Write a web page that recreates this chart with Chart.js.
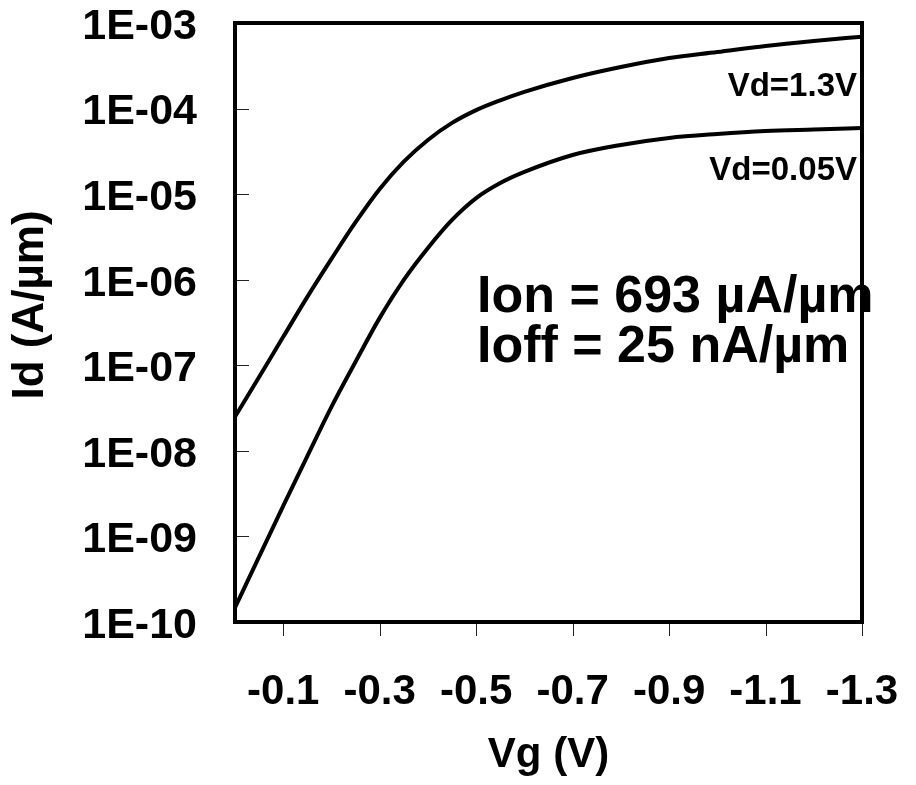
<!DOCTYPE html>
<html>
<head>
<meta charset="utf-8">
<script src="https://cdn.jsdelivr.net/npm/chart.js@4/dist/chart.umd.min.js"></script>
<style>
  body { margin: 0; background: #fff; }
  #box { width: 916px; height: 785px; }
</style>
</head>
<body>
<div id="box"><canvas id="idvg" width="916" height="785"></canvas></div>
<script>
// Id-Vg curves
const vg = [0, -0.05, -0.1, -0.15, -0.2, -0.25, -0.3, -0.35, -0.4, -0.45, -0.5, -0.55, -0.6, -0.7, -0.8, -0.9, -1.0, -1.1, -1.2, -1.3];
const idHigh = [2.5e-8, 7.3e-8, 2.15e-7, 6.3e-7, 1.75e-6, 4.7e-6, 1.15e-5, 2.4e-5, 4.3e-5, 6.8e-5, 9.6e-5, 1.25e-4, 1.57e-4, 2.28e-4, 3.06e-4, 3.9e-4, 4.58e-4, 5.4e-4, 6.17e-4, 6.93e-4];
const idLow = [1.47e-10, 5.8e-10, 2.28e-9, 8.7e-9, 3.27e-8, 1.1e-7, 3.58e-7, 9.95e-7, 2.35e-6, 5.0e-6, 9.0e-6, 1.35e-5, 1.82e-5, 2.87e-5, 3.76e-5, 4.54e-5, 5.05e-5, 5.47e-5, 5.7e-5, 5.93e-5];
const seriesNames = ['Vd=1.3V', 'Vd=0.05V'];

// tick labels
const xTicks = [-0.1, -0.3, -0.5, -0.7, -0.9, -1.1, -1.3];
const yTicks = [1e-10, 1e-9, 1e-8, 1e-7, 1e-6, 1e-5, 1e-4, 1e-3];
const notes = ['Ion = 693 \u00b5A/\u00b5m', 'Ioff = 25 nA/\u00b5m'];

const FONT = '"Liberation Sans", Arial, Helvetica, sans-serif';

function toPoints(ys) {
    return vg.map((v, i) => ({ x: v, y: ys[i] }));
}

// frame, tick marks and the text inside the plot
const extras = {
    id: 'extras',
    afterDraw(chart) {
        const ctx = chart.ctx;
        const a = chart.chartArea;
        const xs = chart.scales.x;
        const ys = chart.scales.y;
        ctx.save();

        // inner ticks on y, outer ticks on x
        ctx.strokeStyle = '#222';
        ctx.lineWidth = 1;
        ys.ticks.forEach(t => {
            const y = Math.round(ys.getPixelForValue(t.value)) + 0.5;
            ctx.beginPath();
            ctx.moveTo(a.left, y);
            ctx.lineTo(a.left + 14, y);
            ctx.stroke();
        });
        xs.ticks.forEach(t => {
            const x = Math.round(xs.getPixelForValue(t.value)) + 0.5;
            ctx.beginPath();
            ctx.moveTo(x, a.bottom);
            ctx.lineTo(x, a.bottom + 14);
            ctx.stroke();
        });

        ctx.strokeStyle = '#000';
        ctx.lineWidth = 4;
        ctx.strokeRect(a.left, a.top, a.right - a.left, a.bottom - a.top);

        ctx.fillStyle = '#000';
        ctx.textBaseline = 'alphabetic';

        // curve names
        ctx.font = 'bold 33px ' + FONT;
        ctx.textAlign = 'right';
        ctx.fillText(seriesNames[0], a.right - 5, 96);
        ctx.fillText(seriesNames[1], a.right - 5, 180);

        // Ion / Ioff
        ctx.font = 'bold 52px ' + FONT;
        ctx.textAlign = 'left';
        ctx.fillText(notes[0], 477, 312);
        ctx.fillText(notes[1], 477, 362);

        // y title
        ctx.font = 'bold 44px ' + FONT;
        ctx.textAlign = 'center';
        ctx.textBaseline = 'middle';
        ctx.translate(31, 305);
        ctx.rotate(-Math.PI / 2);
        ctx.fillText('Id (A/\u00b5m)', 0, 0);

        ctx.restore();
    }
};

const config = {
    type: 'line',
    data: {
        datasets: [
            { label: seriesNames[0], data: toPoints(idHigh) },
            { label: seriesNames[1], data: toPoints(idLow) }
        ]
    },
    options: {
        responsive: false,
        animation: false,
        layout: { padding: { top: 23, right: 54, left: 0, bottom: 0 } },
        elements: {
            point: { radius: 0 },
            line: { borderColor: '#000', borderWidth: 4, cubicInterpolationMode: 'monotone', fill: false }
        },
        plugins: {
            legend: { display: false },
            tooltip: { enabled: false }
        },
        scales: {
            x: {
                type: 'linear',
                min: -1.3,
                max: 0,
                reverse: true,
                afterBuildTicks: s => { s.ticks = xTicks.map(v => ({ value: v })); },
                afterFit: s => { s.height = 163; },
                border: { display: false },
                grid: { drawOnChartArea: false, drawTicks: true, tickLength: 45, tickColor: 'rgba(0,0,0,0)' },
                ticks: {
                    autoSkip: false,
                    maxRotation: 0,
                    padding: 0,
                    color: '#000',
                    font: { family: FONT, size: 42, weight: 'bold', lineHeight: 1.2 },
                    callback: v => v.toFixed(1)
                },
                title: {
                    display: true,
                    text: 'Vg (V)',
                    color: '#000',
                    padding: { top: 0, bottom: 4 },
                    font: { family: FONT, size: 42, weight: 'bold', lineHeight: 1.2 }
                }
            },
            y: {
                type: 'logarithmic',
                min: 1e-10,
                max: 1e-3,
                afterBuildTicks: s => { s.ticks = yTicks.map(v => ({ value: v })); },
                afterFit: s => { s.width = 235; },
                border: { display: false },
                grid: { drawOnChartArea: false, drawTicks: true, tickLength: 38, tickColor: 'rgba(0,0,0,0)' },
                ticks: {
                    padding: 0,
                    labelOffset: 4,
                    color: '#000',
                    font: { family: FONT, size: 43, weight: 'bold', lineHeight: 1.0 },
                    callback: v => {
                        const e = Math.round(Math.log10(v));
                        return '1E-' + String(-e).padStart(2, '0');
                    }
                }
            }
        }
    },
    plugins: [extras]
};

const ctx = document.getElementById('idvg').getContext('2d');
new Chart(ctx, config);
</script>
</body>
</html>
